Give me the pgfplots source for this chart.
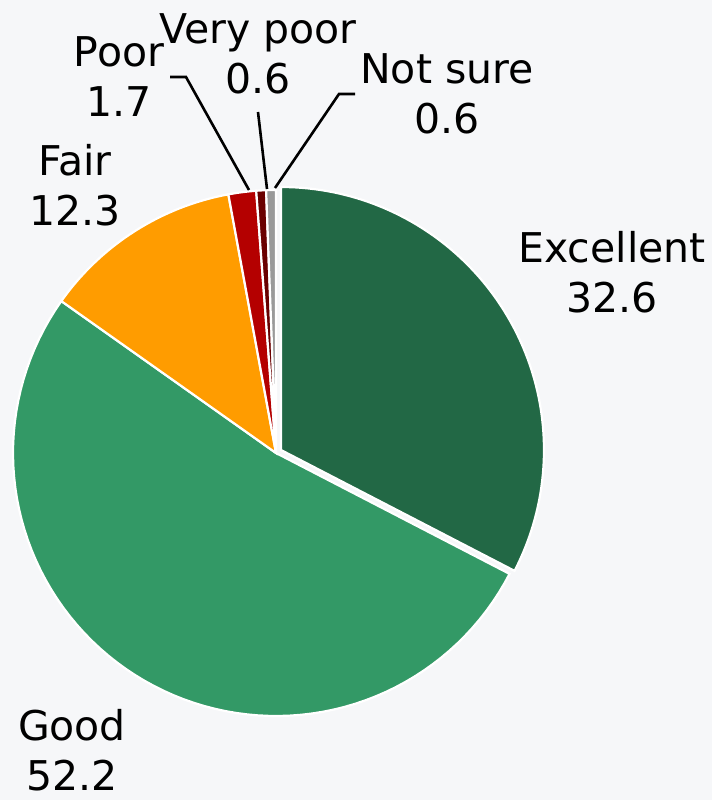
\documentclass[border=0pt]{standalone}
\usepackage{pgfplots}
\pgfplotsset{compat=1.18}
\usepackage{fontspec}
\setmainfont{DejaVu Sans}
\definecolor{cEx}{HTML}{226845}
\definecolor{cGo}{HTML}{339966}
\definecolor{cFa}{HTML}{FF9C00}
\definecolor{cPo}{HTML}{B40000}
\definecolor{cVp}{HTML}{6A0000}
\definecolor{cNs}{HTML}{999999}
\definecolor{bg}{HTML}{F6F7F9}
% values (percent)
\def\vEx{32.6}
\def\vGo{52.2}
\def\vFa{12.3}
\def\vPo{1.7}
\def\vVp{0.6}
\def\vNs{0.6}
\newcommand{\pieslice}[5]{% color, from, to, cx, cy
  \addplot[fill=#1, draw=white, line width=1.1pt, domain=#2:#3, samples=80, variable=\t]
    ({#4+263*cos(\t)},{#5+263*sin(\t)}) -- (axis cs:#4,#5) -- cycle;
}
\begin{document}
\begin{tikzpicture}
\pgfmathsetmacro{\aA}{90}
\pgfmathsetmacro{\aB}{\aA-3.6*\vEx}
\pgfmathsetmacro{\aC}{\aB-3.6*\vGo}
\pgfmathsetmacro{\aD}{\aC-3.6*\vFa}
\pgfmathsetmacro{\aE}{\aD-3.6*\vPo}
\pgfmathsetmacro{\aF}{\aE-3.6*\vVp}
\pgfmathsetmacro{\aG}{\aF-3.6*\vNs}
\begin{axis}[name=ax, width=356pt, height=400pt, scale only axis, hide axis,
  xmin=0, xmax=712, ymin=0, ymax=800, clip=false]
\fill[bg] (axis cs:0,0) rectangle (axis cs:712,800);
\pieslice{cEx}{\aB}{\aA}{281}{350}
\pieslice{cGo}{\aC}{\aB}{276}{347}
\pieslice{cFa}{\aD}{\aC}{276}{347}
\pieslice{cPo}{\aE}{\aD}{276}{347}
\pieslice{cVp}{\aF}{\aE}{276}{347}
\pieslice{cNs}{\aG}{\aF}{276}{347}
% leader lines
\draw[black, line width=1.3pt] (axis cs:170,723) -- (axis cs:186,723) -- (axis cs:249,610);
\draw[black, line width=1.3pt] (axis cs:258,688) -- (axis cs:267,611);
\draw[black, line width=1.3pt] (axis cs:355,706) -- (axis cs:339,706) -- (axis cs:275,612);
% labels
\tikzset{lab/.style={align=center, inner sep=0pt, font=\fontsize{20.5}{25}\selectfont}}
\node[lab] at (axis cs:612,528) {Excellent\\32.6};
\node[lab] at (axis cs:72,50) {Good\\52.2};
\node[lab] at (axis cs:75,615) {Fair\\12.3};
\node[lab] at (axis cs:119,723) {Poor\\1.7};
\node[lab] at (axis cs:258,746) {Very poor\\0.6};
\node[lab] at (axis cs:447,706) {Not sure\\0.6};
\end{axis}
\pgfresetboundingbox
\path[use as bounding box] (ax.south west) rectangle (ax.north east);
\end{tikzpicture}
\end{document}
